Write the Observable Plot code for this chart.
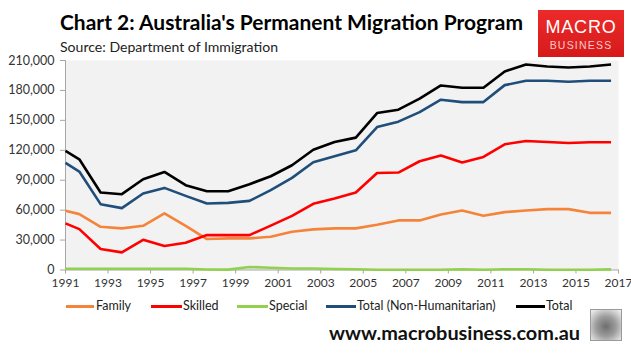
<!DOCTYPE html>
<html>
<head>
<meta charset="utf-8">
<script src="https://cdn.jsdelivr.net/npm/d3@7"></script>
<script src="https://cdn.jsdelivr.net/npm/@observablehq/plot@0.6"></script>
<style>
  html, body { margin: 0; padding: 0; background: #fff; }
  #wrap { position: relative; width: 631px; height: 354px; overflow: hidden; background: #fff; font-family: Lato, "Open Sans", sans-serif; color: #000; }
  .abs { position: absolute; white-space: nowrap; }
  #title { left: 60px; top: 9px; font-size: 21px; font-weight: 700; transform-origin: left top; }
  #sub { left: 60px; top: 38px; font-size: 14px; color: #222; transform-origin: left top; }
  #logo { left: 538px; top: 10px; width: 86px; height: 47px; background: linear-gradient(180deg, #ee2a2a 0%, #d51a1a 100%); color: #fff; text-align: center; }
  #logo .m { position: absolute; left: 0; width: 86px; top: 7px; font-family: "Liberation Sans", Arial, sans-serif; font-size: 18px; letter-spacing: 0.8px; font-weight: 400; }
  #logo .b { position: absolute; left: 0; width: 86px; top: 29px; font-family: "Liberation Sans", Arial, sans-serif; font-size: 10.5px; letter-spacing: 1.2px; color: #f6caca; }
  #chart { left: 0; top: 50px; }
  #legend { left: 0; top: 297px; width: 631px; height: 18px; font-size: 12.5px; color: #222; }
  .li { position: absolute; top: 0; height: 18px; line-height: 18px; }
  .ls { position: absolute; top: 8px; height: 3px; }
  #url { left: 329px; top: 321px; font-size: 19px; font-weight: 700; color: #111; transform-origin: left top; }
  #wolf { left: 590px; top: 309px; width: 30px; height: 30px; border: 1px solid #9a9a9a; background: radial-gradient(circle at 50% 55%, #6e6e6e 0%, #9c9c9c 45%, #cfcfcf 75%, #f4f4f4 100%); }
</style>
</head>
<body>
<div id="wrap">
  <div id="title" class="abs">Chart 2: Australia's Permanent Migration Program</div>
  <div id="sub" class="abs">Source: Department of Immigration</div>
  <div id="logo" class="abs"><div class="m">MACRO</div><div class="b">BUSINESS</div></div>
  <div id="chart" class="abs"></div>
  <div id="legend" class="abs"></div>
  <div id="url" class="abs">www.macrobusiness.com.au</div>
  <div id="wolf" class="abs"></div>
</div>
<script>
// ---- data ----
const years = [1991, 1991.65, 1992.65, 1993.65, 1994.65, 1995.65, 1996.65, 1997.65, 1998.65, 1999.65,
               2000.65, 2001.65, 2002.65, 2003.65, 2004.65, 2005.65, 2006.65, 2007.65, 2008.65, 2009.65,
               2010.65, 2011.65, 2012.65, 2013.65, 2014.65, 2015.65, 2016.65];
const family = [59300, 56000, 43300, 41700, 44300, 56700, 44300, 31000, 31700, 31700,
                33300, 38300, 40700, 41700, 41700, 45300, 49700, 49700, 55700, 59700,
                54300, 58000, 59700, 61000, 61000, 57300, 57300];
const skilled = [46700, 41000, 21000, 17700, 30300, 24000, 27300, 35000, 35000, 35000,
                 44500, 54300, 66300, 71700, 77700, 97300, 97700, 109000, 114700, 107700,
                 113300, 126000, 129300, 128300, 127300, 128000, 128000];
const special = [1300, 1300, 1300, 1300, 1300, 1200, 1200, 500, 400, 3000,
                 2300, 1500, 1500, 1000, 700, 300, 300, 300, 300, 700,
                 300, 800, 800, 300, 300, 300, 600];
const totalNonHum = [107300, 98700, 66000, 62000, 76700, 82300, 74300, 66700, 67300, 69300,
                     80000, 92300, 108000, 114000, 120000, 143300, 148700, 158300, 170700, 168300,
                     168300, 185300, 189700, 189700, 188700, 189700, 189700];
const total = [119300, 111000, 77700, 76000, 91000, 98300, 85000, 79000, 79000, 86000,
               94000, 105000, 120500, 128300, 132700, 157300, 160700, 171700, 185000, 182700,
               182700, 199000, 206000, 204000, 203000, 204000, 206000];

const seriesNames = ["Family", "Skilled", "Special", "Total (Non-Humanitarian)", "Total"];
const seriesColors = ["#f5843a", "#ff0000", "#92d050", "#1f4e7a", "#000000"];
const xTicks = [1991, 1993, 1995, 1997, 1999, 2001, 2003, 2005, 2007, 2009, 2011, 2013, 2015, 2017];
const yTicks = [0, 30000, 60000, 90000, 120000, 150000, 180000, 210000];

// ---- build table ----
const seriesValues = [family, skilled, special, totalNonHum, total];
const rows = [];
seriesNames.forEach((name, s) => {
  years.forEach((yr, i) => rows.push({ year: yr, value: seriesValues[s][i], series: name }));
});

const chart = Plot.plot({
  width: 631,
  height: 250,
  marginLeft: 65,
  marginRight: 13,
  marginTop: 10,
  marginBottom: 30.5,
  style: { fontFamily: "Lato, 'Open Sans', sans-serif", fontSize: "12.5px", color: "#333", background: "transparent", overflow: "visible" },
  x: { domain: [1991, 2017] },
  y: { domain: [0, 210000] },
  color: { domain: seriesNames, range: seriesColors },
  marks: [
    Plot.frame({ fill: "#f2f2f2", stroke: null }),
    Plot.axisX({ ticks: xTicks, tickFormat: d => String(d), tickSize: 4, tickPadding: 4, label: null, stroke: "#a6a6a6", fill: "#333", fontSize: 12 }),
    Plot.axisY({ ticks: yTicks, tickFormat: d3.format(","), tickSize: 5, tickPadding: 6, label: null, stroke: "#a6a6a6", fill: "#333" }),
    Plot.ruleY([0], { stroke: "#a6a6a6" }),
    Plot.ruleX([1991], { stroke: "#a6a6a6" }),
    Plot.line(rows, { x: "year", y: "value", z: "series", stroke: "series", strokeWidth: 2.6, strokeLinejoin: "round", strokeLinecap: "butt" })
  ]
});
document.getElementById("chart").appendChild(chart);

// ---- legend ----
const legend = document.getElementById("legend");
const legendPos = [
  { line: [66, 94], text: 96 },
  { line: [151, 182], text: 183 },
  { line: [237, 268], text: 269 },
  { line: [326, 356], text: 357 },
  { line: [516, 545], text: 546 }
];
seriesNames.forEach((name, i) => {
  const sw = document.createElement("div");
  sw.className = "ls";
  sw.style.left = legendPos[i].line[0] + "px";
  sw.style.width = (legendPos[i].line[1] - legendPos[i].line[0]) + "px";
  sw.style.background = seriesColors[i];
  legend.appendChild(sw);
  const t = document.createElement("div");
  t.className = "li";
  t.style.left = legendPos[i].text + "px";
  t.textContent = name;
  legend.appendChild(t);
});

// ---- fit a few text blocks to their widths in the reference ----
function fitWidth(id, target) {
  const el = document.getElementById(id);
  const w = el.getBoundingClientRect().width;
  if (w > 0) el.style.transform = `scaleX(${target / w})`;
}
fitWidth("title", 463);
fitWidth("sub", 218);
fitWidth("url", 251);
</script>
</body>
</html>
